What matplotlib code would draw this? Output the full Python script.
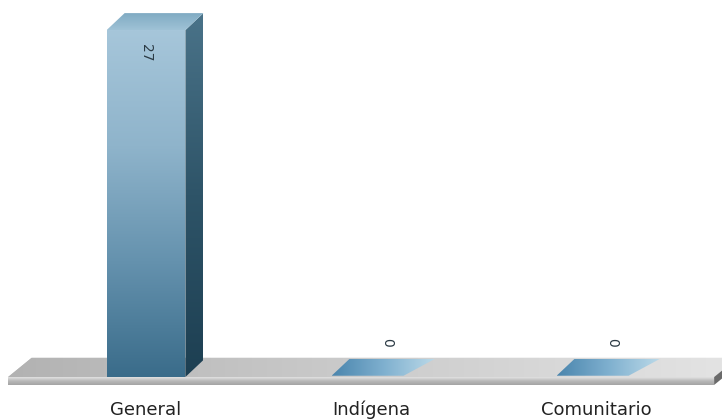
import matplotlib.pyplot as plt
import numpy as np
from matplotlib.patches import Polygon
from matplotlib.colors import LinearSegmentedColormap

categories = ['General', 'Indígena', 'Comunitario']
values = [27, 0, 0]

bar_w = 0.35      # front width of a bar, in category units
dx, dy = 0.08, 1.32   # depth offset of the 3d effect


def grad_poly(ax, verts, colors, horizontal=False, z=2):
    # polygon filled with a linear gradient (imshow clipped to the shape)
    poly = Polygon(verts, closed=True, fc='none', ec='none', zorder=z)
    ax.add_patch(poly)
    xs = [v[0] for v in verts]
    ys = [v[1] for v in verts]
    g = np.linspace(0, 1, 256)
    arr = g[None, :] if horizontal else g[:, None]
    cmap = LinearSegmentedColormap.from_list('g', colors)
    im = ax.imshow(arr, extent=(min(xs), max(xs), min(ys), max(ys)), origin='lower',
                   cmap=cmap, aspect='auto', zorder=z, interpolation='bilinear')
    im.set_clip_path(poly)
    return poly


fig = plt.figure(figsize=(7.22, 4.2), dpi=100)
ax = fig.add_axes([0, 0, 1, 1])
ax.axis('off')

# floor slab
fl, fr = -0.613, 2.525
fdx, fdy = 0.105, 1.5
grad_poly(ax, [(fl, 0), (fr, 0), (fr + fdx, fdy), (fl + fdx, fdy)],
          ['#b2b2b2', '#c4c4c4', '#d4d4d4', '#e4e4e4'], horizontal=True, z=1)
grad_poly(ax, [(fl, -0.62), (fr, -0.62), (fr, 0), (fl, 0)],
          ['#a4a4a4', '#b8b8b8', '#e2e2e2'], z=1)
ax.add_patch(Polygon([(fr, -0.62), (fr + fdx, fdy - 0.62), (fr + fdx, fdy), (fr, 0)],
                     closed=True, fc='#6a6a6a', ec='none', zorder=1))
ax.add_patch(Polygon([(fl, -0.62), (fl + fdx, fdy - 0.62), (fl + fdx, fdy), (fl, 0)],
                     closed=True, fc='#bdbdbd', ec='none', zorder=0.9))

for i, (cat, v) in enumerate(zip(categories, values)):
    x0, x1 = i - bar_w / 2, i + bar_w / 2
    if v > 0:
        # front, side and top faces
        grad_poly(ax, [(x0, 0), (x1, 0), (x1, v), (x0, v)],
                  ['#3a6c8a', '#6592ae', '#8fb4cb', '#a6c6da'], z=3)
        grad_poly(ax, [(x1, 0), (x1 + dx, dy), (x1 + dx, v + dy), (x1, v)],
                  ['#1d3f52', '#2e5468', '#4a7389'], z=3)
        grad_poly(ax, [(x0, v), (x1, v), (x1 + dx, v + dy), (x0 + dx, v + dy)],
                  ['#9fc2d6', '#80abc3'], z=3)
        ax.text(i, v - 1.1, str(v), rotation=270, ha='center', va='top',
                fontsize=10, color='#2b3a44', zorder=5)
    else:
        grad_poly(ax, [(x0, 0.1), (x1 - 0.03, 0.1), (x1 + dx + 0.03, dy + 0.1), (x0 + dx, dy + 0.1)],
                  ['#4a85ad', '#7fb0cf', '#bcdae9'], horizontal=True, z=3)
        ax.text(i + dx / 2 + 0.03, dy + 1.0, str(v), rotation=270, ha='center', va='bottom',
                fontsize=10, color='#2b3a44', zorder=5)
    ax.text(i, -2.95, cat, ha='center', va='baseline', fontsize=13, color='#222222')

ax.set_xlim(-0.649, 2.56)
ax.set_ylim(-3.346, 29.34)
fig.savefig('out.png', dpi=100, facecolor='white')
